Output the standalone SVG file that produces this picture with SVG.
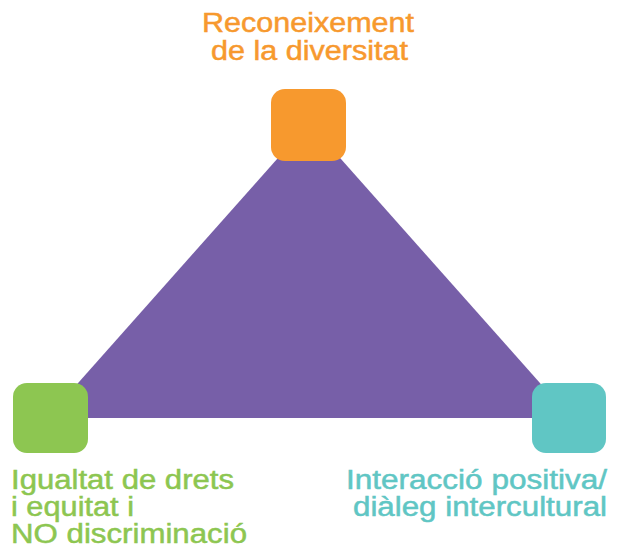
<svg xmlns="http://www.w3.org/2000/svg" width="617" height="554" viewBox="0 0 617 554">
<style>
  .lbl { font-family: "Liberation Sans", Arial, Helvetica, sans-serif; font-size: 27px; stroke-width: 0.5; }
  .box { stroke: none; }
</style>
<rect width="617" height="554" fill="#ffffff"/>
<g id="connectors">
  <polygon points="309,123 47,418 571,418" fill="#775FA8"/>
</g>
<g id="node-reconeixement">
  <rect class="box" x="271" y="89" width="75" height="72" rx="14" fill="#F7992E"/>
  <text class="lbl" fill="#F7992E" stroke="#F7992E" x="202" y="32" textLength="212" lengthAdjust="spacingAndGlyphs">Reconeixement</text>
  <text class="lbl" fill="#F7992E" stroke="#F7992E" x="211" y="60" textLength="197" lengthAdjust="spacingAndGlyphs">de la diversitat</text>
</g>
<g id="node-igualtat">
  <rect class="box" x="13" y="383" width="75" height="70" rx="14" fill="#8DC651"/>
  <text class="lbl" fill="#8DC651" stroke="#8DC651" x="11" y="489" textLength="223" lengthAdjust="spacingAndGlyphs">Igualtat de drets</text>
  <text class="lbl" fill="#8DC651" stroke="#8DC651" x="11" y="516" textLength="123" lengthAdjust="spacingAndGlyphs">i equitat i</text>
  <text class="lbl" fill="#8DC651" stroke="#8DC651" x="11" y="543" textLength="236" lengthAdjust="spacingAndGlyphs">NO discriminació</text>
</g>
<g id="node-interaccio">
  <rect class="box" x="532" y="383" width="74" height="70" rx="14" fill="#60C6C4"/>
  <text class="lbl" fill="#60C6C4" stroke="#60C6C4" x="346" y="489" textLength="261" lengthAdjust="spacingAndGlyphs">Interacció positiva/</text>
  <text class="lbl" fill="#60C6C4" stroke="#60C6C4" x="353" y="516" textLength="254" lengthAdjust="spacingAndGlyphs">diàleg intercultural</text>
</g>
</svg>
